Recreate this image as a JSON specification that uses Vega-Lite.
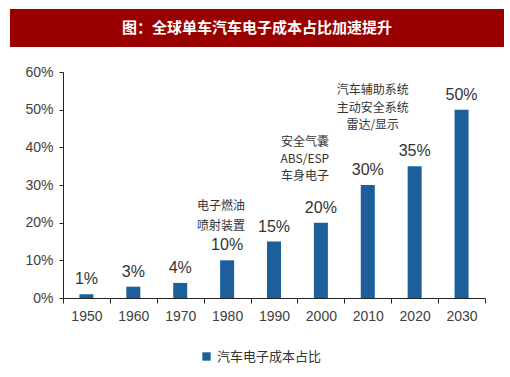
{
  "$schema": "https://vega.github.io/schema/vega-lite/v6.json",
  "background": "white",
  "padding": {"left": 10, "top": 9, "right": 6, "bottom": 0},
  "spacing": 18,
  "config": {
    "view": {"stroke": null},
    "font": "Liberation Sans"
  },
  "vconcat": [
    {
      "width": 494,
      "height": 38,
      "view": {"fill": "#990000", "stroke": null},
      "data": {"values": [{"title": "图：全球单车汽车电子成本占比加速提升"}]},
      "mark": {"type": "text", "color": "white", "font": "Noto Sans CJK SC", "fontSize": 15, "fontWeight": "bold", "align": "center", "baseline": "middle"},
      "encoding": {"text": {"field": "title"}}
    },
    {
      "spacing": 0,
      "hconcat": [
        {
          "width": 1,
          "height": 226,
          "data": {"values": [{"t": ""}]},
          "mark": {"type": "text"},
          "encoding": {"text": {"field": "t"}}
        },
        {
          "width": 422,
          "height": 226,
          "data": {"values": [
            {"year": "1950", "share": 0.01, "note": ""},
            {"year": "1960", "share": 0.03, "note": ""},
            {"year": "1970", "share": 0.04, "note": ""},
            {"year": "1980", "share": 0.10, "note": "电子燃油\n喷射装置"},
            {"year": "1990", "share": 0.15, "note": ""},
            {"year": "2000", "share": 0.20, "note": "安全气囊\nABS/ESP\n车身电子"},
            {"year": "2010", "share": 0.30, "note": "汽车辅助系统\n主动安全系统\n雷达/显示"},
            {"year": "2020", "share": 0.35, "note": ""},
            {"year": "2030", "share": 0.50, "note": ""}
          ]},
          "encoding": {
            "x": {
              "field": "year", "type": "nominal", "sort": null,
              "scale": {"paddingInner": 0, "paddingOuter": 0},
              "axis": {"title": null, "labelAngle": 0, "labelFontSize": 14, "labelColor": "#404040", "domainColor": "#222222", "tickColor": "#222222", "tickSize": 5, "labelPadding": 6, "tickBand": "extent", "grid": false}
            },
            "y": {
              "field": "share", "type": "quantitative",
              "scale": {"domain": [0, 0.6]},
              "axis": {"title": null, "format": ".0%", "values": [0, 0.1, 0.2, 0.3, 0.4, 0.5, 0.6], "labelFontSize": 14, "labelColor": "#404040", "domainColor": "#222222", "tickColor": "#222222", "tickSize": 4, "labelPadding": 6, "grid": false, "minExtent": 52}
            }
          },
          "layer": [
            {
              "mark": {"type": "bar", "size": 14},
              "encoding": {
                "color": {"datum": "汽车电子成本占比", "type": "nominal", "scale": {"range": ["#1c5f9b"]},
                  "legend": {"title": null, "orient": "none", "legendX": 190, "legendY": 341, "direction": "horizontal", "symbolType": "square", "symbolSize": 70, "labelFont": "Noto Sans CJK SC", "labelFontSize": 13, "labelColor": "#333333"}}
              }
            },
            {
              "mark": {"type": "text", "fontSize": 16, "color": "#333333", "baseline": "alphabetic", "dy": -10},
              "encoding": {"text": {"field": "share", "format": ".0%"}}
            },
            {
              "transform": [{"filter": "datum.year == '1980'"}],
              "mark": {"type": "text", "font": "Noto Sans CJK SC", "fontSize": 12, "color": "#333333", "baseline": "bottom", "lineBreak": "\n", "lineHeight": 20, "dy": -47, "dx": -6},
              "encoding": {"text": {"field": "note"}}
            },
            {
              "transform": [{"filter": "datum.year == '2000'"}],
              "mark": {"type": "text", "font": "Noto Sans CJK SC", "fontSize": 12, "color": "#333333", "baseline": "bottom", "lineBreak": "\n", "lineHeight": 17, "dy": -74, "dx": -16},
              "encoding": {"text": {"field": "note"}}
            },
            {
              "transform": [{"filter": "datum.year == '2010'"}],
              "mark": {"type": "text", "font": "Noto Sans CJK SC", "fontSize": 12, "color": "#333333", "baseline": "bottom", "lineBreak": "\n", "lineHeight": 17.5, "dy": -88, "dx": 5},
              "encoding": {"text": {"field": "note"}}
            }
          ]
        }
      ]
    }
  ]
}
